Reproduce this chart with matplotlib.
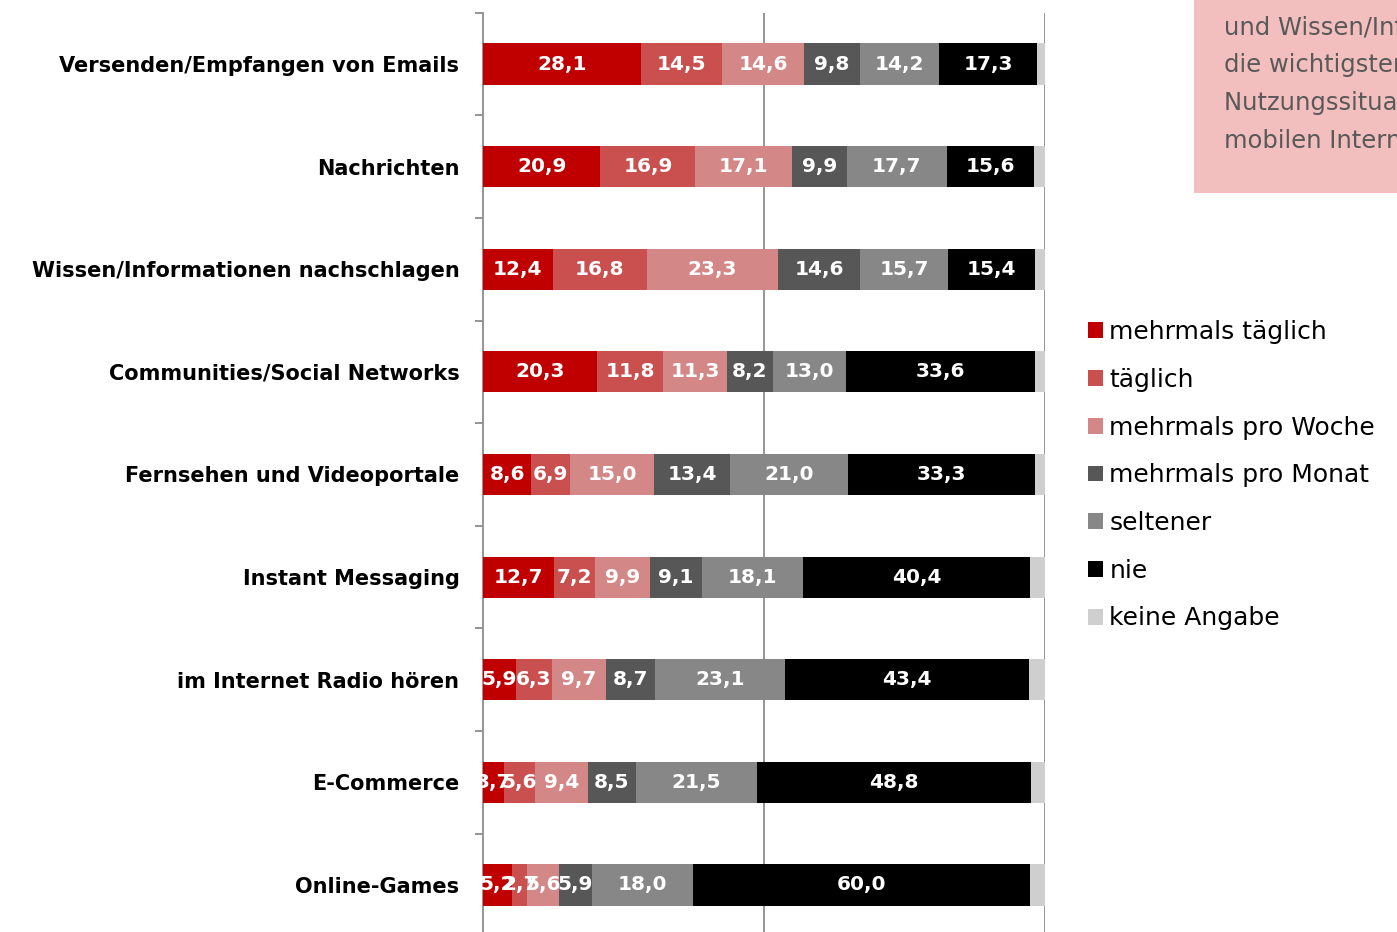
#!/usr/bin/env python3
import matplotlib

matplotlib.use("Agg")
import matplotlib.pyplot as plt
from matplotlib.patches import Rectangle
import numpy as np

categories = [
    "Versenden/Empfangen von Emails",
    "Nachrichten",
    "Wissen/Informationen nachschlagen",
    "Communities/Social Networks",
    "Fernsehen und Videoportale",
    "Instant Messaging",
    "im Internet Radio hören",
    "E-Commerce",
    "Online-Games",
]
series_names = [
    "mehrmals täglich",
    "täglich",
    "mehrmals pro Woche",
    "mehrmals pro Monat",
    "seltener",
    "nie",
    "keine Angabe",
]
mehrmals_taeglich = [28.1, 20.9, 12.4, 20.3, 8.6, 12.7, 5.9, 3.7, 5.2]
taeglich = [14.5, 16.9, 16.8, 11.8, 6.9, 7.2, 6.3, 5.6, 2.7]
mehrmals_woche = [14.6, 17.1, 23.3, 11.3, 15.0, 9.9, 9.7, 9.4, 5.6]
mehrmals_monat = [9.8, 9.9, 14.6, 8.2, 13.4, 9.1, 8.7, 8.5, 5.9]
seltener = [14.2, 17.7, 15.7, 13.0, 21.0, 18.1, 23.1, 21.5, 18.0]
nie = [17.3, 15.6, 15.4, 33.6, 33.3, 40.4, 43.4, 48.8, 60.0]
keine_angabe = [1.5, 1.9, 1.8, 1.8, 1.8, 2.6, 2.9, 2.5, 2.6]

note_lines = [
    "Nachrichten",
    "und Wissen/Informationen",
    "die wichtigsten",
    "Nutzungssituationen des",
    "mobilen Internets",
]

colors = ["#c00000", "#c9504f", "#d48787", "#575757", "#878787", "#000000", "#cfcfcf"]

W, H = 1397, 932
fig = plt.figure(figsize=(W / 100, H / 100), dpi=100)
ax = fig.add_axes([483 / W, (H - 936.3) / H, 562 / W, 923.6 / H])

series = [mehrmals_taeglich, taeglich, mehrmals_woche, mehrmals_monat, seltener, nie, keine_angabe]
y = np.arange(len(categories))
left = np.zeros(len(categories))
for idx, (name, vals, col) in enumerate(zip(series_names, series, colors)):
    vals = np.asarray(vals)
    ax.barh(y, vals, left=left, height=0.4, color=col, label=name, zorder=3)
    if idx < 6:
        for yi, (l, v) in enumerate(zip(left, vals)):
            ax.text(l + v / 2, yi, f"{v:.1f}".replace(".", ","), ha="center", va="center",
                    color="white", fontsize=14.5, fontweight="bold", zorder=4)
    left += vals

ax.set_xlim(0, 100)
ax.set_ylim(len(categories) - 0.5, -0.5)
for xv in (50, 100):
    ax.axvline(xv, color="#8c8c8c", linewidth=1.3, zorder=1)

for side in ("top", "right", "bottom"):
    ax.spines[side].set_visible(False)
ax.spines["left"].set_color("#8c8c8c")
ax.spines["left"].set_linewidth(1.3)
ax.set_xticks([])
ax.set_yticks(y)
ax.set_yticklabels(categories, fontsize=15, fontweight="bold")
ax.tick_params(axis="y", length=0, pad=17)
ax.set_yticks(np.arange(len(categories)) - 0.5, minor=True)
ax.tick_params(axis="y", which="minor", length=6, color="#8c8c8c", width=1.3)

fig.legend(loc="upper left", bbox_to_anchor=(1078 / W, 1 - 310 / H), frameon=False,
           fontsize=18, handlelength=0.6, handleheight=0.6, handletextpad=0.25,
           labelspacing=0.95, borderaxespad=0)

fig.patches.append(Rectangle((1194 / W, 1 - 193 / H), 0.3, 0.3, transform=fig.transFigure,
                             facecolor="#f2bebe", edgecolor="none", zorder=0))
for i, line in enumerate(note_lines):
    fig.text(1224 / W, 1 - (-10 + 37.7 * i) / H, line, ha="left", va="center",
             fontsize=17.5, color="#595959")

fig.savefig("out.png", dpi=100)
